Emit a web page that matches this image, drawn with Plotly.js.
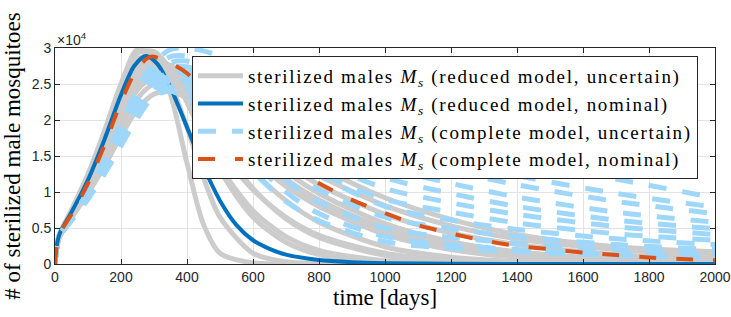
<!DOCTYPE html>
<html>
<head>
<meta charset="utf-8">
<script src="https://cdn.plot.ly/plotly-3.0.1.min.js"></script>
<style>
html,body{margin:0;padding:0;background:#fff;}
#chart{width:731px;height:317px;}
.legendtext{letter-spacing:1.7px;}
</style>
</head>
<body>
<div id="chart"></div>
<script>
// time grid (days)
const days = [0, 4, 12, 25, 50, 100, 150, 200, 250, 300, 350, 400, 450, 500, 600, 700, 800, 1000, 1200, 1400, 1700, 2000];

// reduced model, uncertain (gray)
const reducedUncertain = [
  [0,2000,3900,5200,7500,12500,18500,25000,29800,28500,23500,14000,5500,1500,150,20,0,0,0,0,0,0],
  [0,2000,3900,5200,7400,12300,18200,24500,29300,29500,27000,22500,17500,13000,6500,3000,1300,250,50,0,0,0],
  [0,2000,3800,5100,7200,11800,17300,23300,28000,28800,27200,24000,20200,16500,10500,6300,3700,1200,400,120,20,0],
  [0,2000,3800,5000,7000,11400,16600,22300,26800,28000,27000,24500,21500,18500,13000,8800,5800,2400,950,350,80,20],
  [0,1900,3700,4900,6800,11000,16000,21500,26000,27400,26800,25000,22500,20000,15200,11200,8100,4100,2000,950,300,100],
  [0,1900,3700,4900,6700,10800,15600,20800,25000,26800,26500,25000,23000,20800,16500,12800,9800,5600,3100,1700,650,250],
  [0,1900,3600,4800,6600,10500,15000,20000,24200,26000,25800,24200,22000,19800,15500,11800,8900,4900,2600,1400,500,180],
  [0,1900,3600,4800,6500,10200,14400,19000,23000,25000,25000,23500,21200,18800,14500,10800,8000,4300,2300,1200,450,160],
  [0,1900,3600,4700,6400,9800,13600,17800,21500,23600,24000,23000,21000,19000,15000,11500,8700,5000,2800,1600,700,300],
  [0,2000,3900,5200,7400,12200,17800,24000,28500,28600,25000,19000,12000,6500,1500,300,50,0,0,0,0,0],
  [0,2000,3900,5100,7300,12000,17600,23800,28400,29000,26800,22500,17800,13500,7400,3800,1900,450,100,20,0,0],
  [0,1900,3700,4900,6900,11200,16200,21800,26300,27600,27000,25500,23600,21800,18200,15000,12300,8100,5300,3500,2000,1200],
  [0,1900,3700,4900,6800,10900,15800,21000,25400,27000,26600,25200,23200,21200,17300,13900,11000,6900,4300,2700,1300,650],
  [0,2000,3800,5000,7100,11600,17000,23000,27600,28400,26500,23000,19200,15800,10300,6500,4000,1500,550,200,40,10],
  [0,1900,3700,4900,6900,11300,16400,22000,26600,28000,27600,26300,24600,22800,19300,16200,13500,9200,6200,4100,2400,1700]
];

// reduced model, nominal (blue)
const reducedNominalDays = [0, 3, 8, 15, 25, 50, 100, 150, 200, 240, 275, 310, 350, 400, 450, 500, 550, 600, 650, 700, 800, 900, 1000, 1200, 1500, 2000];
const reducedNominal = [0,1500,3200,4300,5200,7200,11700,17300,23500,27500,28900,27800,24500,19000,13500,8800,5400,3300,2100,1300,550,250,120,30,5,0];

// complete model, uncertain (light blue dashed)
const completeUncertain = [
  [0,2000,3700,4800,6400,10000,14500,19500,24300,28000,29800,30000,29600,28900,27200,25200,23000,19500,16800,14500,11800,9200],
  [0,2000,3700,4800,6400,10000,14300,19100,23700,27200,28800,28900,28300,27400,25200,23000,20800,17000,14500,12300,9800,7900],
  [0,1900,3600,4700,6300,9800,14000,18600,23000,26500,28000,28200,27500,26500,24100,21800,19600,15500,13000,11000,8700,7000],
  [0,1900,3600,4700,6300,9700,13700,18100,22400,25800,27300,27400,26600,25400,22700,20100,17700,13500,11200,9300,7200,5800],
  [0,1900,3600,4700,6200,9500,13400,17600,21800,25200,26700,26700,25800,24400,21400,18500,16000,12000,9800,8000,6100,4900],
  [0,1900,3500,4600,6100,9300,13000,17100,21200,24600,26200,26100,25100,23500,20200,17000,14300,10500,8500,6900,5200,4100],
  [0,1900,3500,4600,6100,9200,12800,16700,20700,24100,25700,25500,24300,22600,18900,15500,12700,9000,7200,5700,4200,3300],
  [0,2000,3700,4800,6400,10000,14300,19000,23300,25800,26800,26300,25000,23300,19300,15600,12400,8000,6100,4800,3500,2700],
  [0,2000,3700,4800,6300,9800,13900,18400,22600,25200,26000,25300,23800,21900,17500,13500,10300,6500,4900,3800,2700,2000],
  [0,1900,3600,4700,6200,9500,13400,17700,21800,24500,25300,24400,22600,20400,15700,11600,8600,5000,3700,2900,2000,1400],
  [0,1900,3500,4600,6100,9200,12900,17000,21000,23800,24600,23600,21600,19200,14200,10000,7000,3800,2700,2000,1400,1000],
  [0,1900,3500,4600,6000,9000,12500,16400,20300,23300,24000,22900,20600,18000,12800,8700,6000,3100,2200,1700,1200,900]
];

// complete model, nominal (orange dashed)
const completeNominalDays = [0, 3, 8, 15, 25, 50, 100, 150, 200, 250, 290, 330, 400, 500, 600, 700, 800, 900, 1000, 1100, 1200, 1300, 1400, 1500, 1600, 1700, 1800, 1900, 2000];
const completeNominal = [0,1500,3200,4300,5100,6900,11200,16500,22500,27200,28800,28300,26500,21500,17000,14000,11200,8900,7060,5400,4250,3250,2500,2050,1600,1250,900,680,520];

// axis ticks
const xTicks = [0, 200, 400, 600, 800, 1000, 1200, 1400, 1600, 1800, 2000];
const yTickVals = [0, 5000, 10000, 15000, 20000, 25000, 30000];
const yTickText = ['0', '0.5', '1', '1.5', '2', '2.5', '3'];

const names = [
  'sterilized males <i>M<sub>s</sub></i> (reduced model, uncertain)',
  'sterilized males <i>M<sub>s</sub></i> (reduced model, nominal)',
  'sterilized males <i>M<sub>s</sub></i> (complete model, uncertain)',
  'sterilized males <i>M<sub>s</sub></i> (complete model, nominal)'
];

const traces = [];
reducedUncertain.forEach((ys, i) => {
  traces.push({x: days, y: ys, type: 'scatter', mode: 'lines', name: names[0],
    showlegend: i === 0,
    line: {color: '#cccccc', width: 5, shape: 'spline', smoothing: 0.8}, hoverinfo: 'skip'});
});
traces.push({x: reducedNominalDays, y: reducedNominal, type: 'scatter', mode: 'lines', name: names[1],
  line: {color: '#0072BD', width: 4, shape: 'spline', smoothing: 0.8}});
completeUncertain.forEach((ys, i) => {
  traces.push({x: days, y: ys, type: 'scatter', mode: 'lines', name: names[2],
    showlegend: i === 0,
    line: {color: '#9fd7fb', width: 5, dash: '18px,16px', shape: 'spline', smoothing: 0.8}, hoverinfo: 'skip'});
});
traces.push({x: completeNominalDays, y: completeNominal, type: 'scatter', mode: 'lines', name: names[3],
  line: {color: '#D95319', width: 4, dash: '17px,20px', shape: 'spline', smoothing: 0.8}});

const axisCol = '#262626';
const layout = {
  width: 731, height: 317,
  margin: {l: 55, r: 16, t: 48, b: 53},
  paper_bgcolor: '#fff', plot_bgcolor: '#fff',
  font: {family: 'Liberation Serif', size: 14, color: '#000'},
  showlegend: true,
  legend: {
    x: 0.2076, y: 0.963, xanchor: 'left', yanchor: 'top',
    bgcolor: '#fff', bordercolor: axisCol, borderwidth: 1,
    font: {family: 'Liberation Serif', size: 19, color: '#000'},
    itemwidth: 45, traceorder: 'normal'
  },
  xaxis: {
    range: [0, 2000], tickvals: xTicks, ticktext: xTicks.map(String),
    ticks: 'inside', ticklen: 5, tickcolor: axisCol, mirror: 'ticks',
    showline: true, linecolor: axisCol, linewidth: 1,
    showgrid: true, gridcolor: '#e3e3e3', gridwidth: 1, zeroline: false,
    tickfont: {family: 'Liberation Sans', size: 14, color: '#262626'},
    title: {text: 'time [days]', font: {family: 'Liberation Serif', size: 23, color: '#000'}, standoff: 4},
    automargin: false
  },
  yaxis: {
    range: [0, 30000], tickvals: yTickVals, ticktext: yTickText,
    ticks: 'inside', ticklen: 5, tickcolor: axisCol, mirror: 'ticks',
    showline: true, linecolor: axisCol, linewidth: 1,
    showgrid: true, gridcolor: '#e3e3e3', gridwidth: 1, zeroline: false,
    tickfont: {family: 'Liberation Sans', size: 14, color: '#262626'},
    title: {text: '# of sterilized male mosquitoes', font: {family: 'Liberation Serif', size: 23, color: '#000'}, standoff: 6},
    automargin: false
  },
  annotations: [{
    xref: 'paper', yref: 'paper', x: 0, y: 1, xanchor: 'left', yanchor: 'bottom',
    text: '×10<sup>4</sup>', showarrow: false,
    font: {family: 'Liberation Sans', size: 14, color: '#262626'}, xshift: 0, yshift: -2
  }]
};

Plotly.newPlot('chart', traces, layout, {displayModeBar: false, staticPlot: true});
</script>
</body>
</html>
